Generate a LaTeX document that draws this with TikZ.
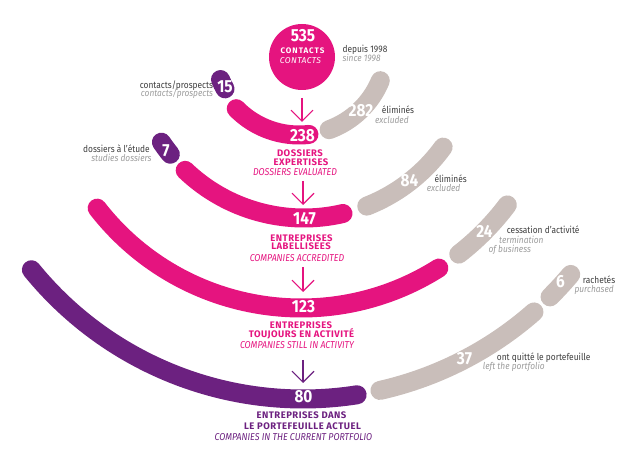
\documentclass[tikz,border=0pt]{standalone}
\usepackage{fontspec}
\setmainfont{Fira Sans}[FakeStretch=0.88]
\newfontfamily\hfont{Fira Sans}[LetterSpace=5]
\newfontfamily\cfont{Fira Sans}[LetterSpace=12]
\usetikzlibrary{arrows.meta}
\definecolor{pk}{HTML}{E5147F}
\definecolor{pu}{HTML}{6C2180}
\definecolor{gy}{HTML}{C9BEBA}
\definecolor{dk}{HTML}{3E3E3E}
\definecolor{lg}{HTML}{9C9C9C}
\newcommand\arcseg[5]{\draw[band,#1] ([shift={(#4:#3pt)}]#2) arc[start angle=#4,end angle=#5,radius=#3pt];}
\begin{document}
\begin{tikzpicture}[x=1pt,y=1pt,
  band/.style={line width=19pt,line cap=round},
  num/.style={inner sep=0,anchor=base,text=white,font=\fontsize{17.5}{17.5}\selectfont\bfseries},
  lab/.style={inner sep=0,text=dk,font=\fontsize{9.5}{9.5}\selectfont},
  labi/.style={inner sep=0,text=lg,font=\fontsize{9.5}{9.5}\selectfont\itshape},
  head/.style={inner sep=0,anchor=base,font=\hfont\fontsize{9.5}{9.5}\selectfont\bfseries},
  eng/.style={inner sep=0,anchor=base,font=\fontsize{10}{10}\selectfont\itshape},
  arr/.style={line width=1.1pt,-{Straight Barb[length=11pt,width=22pt]}}]
\useasboundingbox (0,0) rectangle (632,466);
% centres of the bands
\coordinate (C1) at (299,419);
\coordinate (C2) at (304,420);
\coordinate (C3) at (301,416);
\coordinate (C4) at (303,417);
% level 1
\arcseg{pk}{C1}{88}{224.5}{276.5}
\arcseg{gy}{C1}{88}{290}{337.5}
\arcseg{pu}{C1}{85}{202.5}{209.5}
% level 2
\arcseg{pk}{C2}{172}{226.3}{283.1}
\arcseg{gy}{C2}{172}{291.4}{324}
\arcseg{pu}{C2}{172}{214}{219}
% level 3
\arcseg{pk}{C3}{258}{217.8}{302.3}
\arcseg{gy}{C3}{258}{307.7}{323.1}
% level 4
\arcseg{pu}{C4}{350}{219.1}{278.9}
\arcseg{gy}{C4}{350}{282.7}{311.3}
\arcseg{gy}{C4}{350}{314.9}{319.9}
% top circle
\node[circle,fill=pk,minimum size=66pt,inner sep=0] (c535) at (302,409) {};
\node[num] (t535) at (303,424) {535};
\node[inner sep=0,anchor=base,text=white,font=\cfont\fontsize{8}{8}\selectfont\bfseries] (tcb) at (302.5,412.7) {CONTACTS};
\node[inner sep=0,anchor=base,text=white,font=\hfont\fontsize{8.5}{8.5}\selectfont\itshape] (tcl) at (300.5,402.7) {CONTACTS};
\node[lab,anchor=base west] (dep) at (342.3,413.7) {depuis 1998};
\node[labi,anchor=base west] (sin) at (342.3,404.3) {since 1998};
% arrows
\coordinate (a1s) at (302,368); \coordinate (a1e) at (302,344);
\coordinate (a2s) at (303,285); \coordinate (a2e) at (303,261);
\coordinate (a3s) at (303,199); \coordinate (a3e) at (303,174);
\coordinate (a4s) at (303,106); \coordinate (a4e) at (303,83);
\draw[arr,pk] (a1s) -- (a1e);
\draw[arr,pk] (a2s) -- (a2e);
\draw[arr,pk] (a3s) -- (a3e);
\draw[arr,pu] (a4s) -- (a4e);
% numbers
\node[num] (n238) at (302.5,324) {238};
\node[num] (n147) at (304.5,241) {147};
\node[num] (n123) at (303.5,153) {123};
\node[num] (n80) at (303.5,63) {80};
\node[num] (n282) at (361,349) {282};
\node[num] (n84) at (409.5,279.5) {84};
\node[num] (n24) at (484.5,228) {24};
\node[num] (n6) at (560.5,178) {6};
\node[num] (n37) at (464.5,101) {37};
\node[num] (n15) at (225,373) {15};
\node[num] (n7) at (166,309) {7};
% side labels
\node[lab,anchor=base east] (cp) at (213.3,377.7) {contacts/prospects};
\node[labi,anchor=base east] (cpi) at (213.3,369.3) {contacts/prospects};
\node[lab,anchor=base east] (dae) at (150,313.3) {dossiers à l’étude};
\node[labi,anchor=base east] (sd) at (151.7,304.3) {studies dossiers};
\node[lab,anchor=base west] (el1) at (381.7,352) {éliminés};
\node[labi,anchor=base west] (ex1) at (375,342) {excluded};
\node[lab,anchor=base west] (el2) at (434.3,283.7) {éliminés};
\node[labi,anchor=base west] (ex2) at (426.7,274.3) {excluded};
\node[lab,anchor=base west] (ces) at (506.7,232.7) {cessation d’activité};
\node[labi,anchor=base west] (ter) at (499,222.7) {termination};
\node[labi,anchor=base west] (ofb) at (488.3,213.3) {of business};
\node[lab,anchor=base west] (rac) at (582.7,182.7) {rachetés};
\node[labi,anchor=base west] (pur) at (574.3,173.3) {purchased};
\node[lab,anchor=base west] (oq) at (496.7,105.3) {ont quitté le portefeuille};
\node[labi,anchor=base west] (ltp) at (482.7,96) {left the portfolio};
% headings
\node[head,text=pk] (h1a) at (300,309.3) {DOSSIERS};
\node[head,text=pk] (h1b) at (301,300) {EXPERTISES};
\node[eng,text=pk] (h1c) at (295,290.7) {DOSSIERS EVALUATED};
\node[head,text=pk] (h2a) at (301.5,224.3) {ENTREPRISES};
\node[head,text=pk] (h2b) at (301,216) {LABELLISEES};
\node[eng,text=pk] (h2c) at (297,204.7) {COMPANIES ACCREDITED};
\node[head,text=pk] (h3a) at (301,137.7) {ENTREPRISES};
\node[head,text=pk] (h3b) at (301.5,128.7) {TOUJOURS EN ACTIVITÉ};
\node[eng,text=pk] (h3c) at (297,117) {COMPANIES STILL IN ACTIVITY};
\node[head,text=pu] (h4a) at (301.5,47.7) {ENTREPRISES DANS};
\node[head,text=pu] (h4b) at (302.5,36.7) {LE PORTEFEUILLE ACTUEL};
\node[eng,text=pu] (h4c) at (293.5,26) {COMPANIES IN THE CURRENT PORTFOLIO};
\end{tikzpicture}
\end{document}
